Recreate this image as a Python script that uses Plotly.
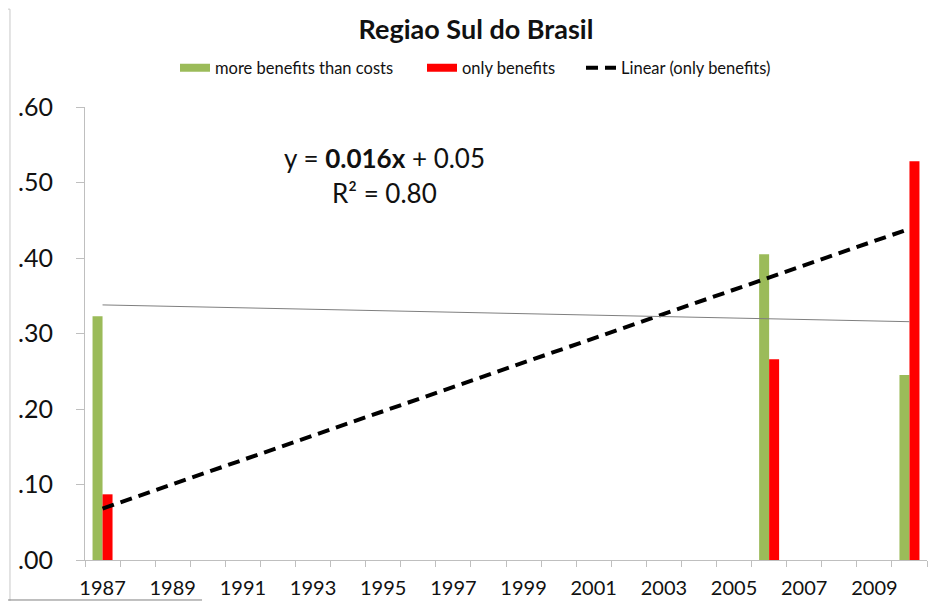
import numpy as np
import plotly.graph_objects as go

# ---- data ----
categories = list(range(1987, 2011))          # category axis (years)
bar_years = [1987, 2006, 2010]
more_benefits = [0.323, 0.405, 0.245]         # more benefits than costs
only_benefits = [0.087, 0.266, 0.528]         # only benefits
label_years = list(range(1987, 2010, 2))
label_text = [str(y) for y in label_years]
y_ticks = [0.0, 0.1, 0.2, 0.3, 0.4, 0.5, 0.6]
y_ticktext = [".00", ".10", ".20", ".30", ".40", ".50", ".60"]
equation_text = "y = <b>0.016x</b> + 0.05"
r2_text = "R² = 0.80"

GREEN = "#9BBB59"
RED = "#FF0000"
FONT = "Lato"
AX = "#bfbfbf"
TXT = "#111111"

# page is offset by the browser's 8px body margin
W, H = 928, 594


def cx(page_x):
    return (page_x - 8) / W


def cy(page_y):
    return 1 - (page_y - 8) / H


# linear trendlines (as Excel computes them)
s_red, b_red = np.polyfit(bar_years, only_benefits, 1)
s_grn, b_grn = np.polyfit(bar_years, more_benefits, 1)
tx = [categories[0], categories[-1]]

bw = 0.285

fig = go.Figure()
fig.add_trace(go.Bar(x=bar_years, y=more_benefits, name="more benefits than costs",
                     legendgroup="g", showlegend=False,
                     marker=dict(color=GREEN, line=dict(width=0)), width=bw, offset=-bw))
fig.add_trace(go.Bar(x=bar_years, y=only_benefits, name="only benefits",
                     legendgroup="r", showlegend=False,
                     marker=dict(color=RED, line=dict(width=0)), width=bw, offset=0))
fig.add_trace(go.Scatter(x=tx, y=[s_red * v + b_red for v in tx], mode="lines",
                         name="Linear (only benefits)", legend="legend3",
                         line=dict(color="black", width=4, dash="12px,7px")))
fig.add_trace(go.Scatter(x=tx, y=[s_grn * v + b_grn for v in tx], mode="lines",
                         showlegend=False, hoverinfo="skip",
                         line=dict(color="#7f7f7f", width=1)))
# legend swatches (wide rectangles like the original)
fig.add_trace(go.Scatter(x=[None], y=[None], mode="lines", name="more benefits than costs",
                         legendgroup="g", legend="legend", line=dict(color=GREEN, width=8)))
fig.add_trace(go.Scatter(x=[None], y=[None], mode="lines", name="only benefits",
                         legendgroup="r", legend="legend2", line=dict(color=RED, width=8)))

fig.add_annotation(x=1995.05, y=0.532, xref="x", yref="y", text=equation_text,
                   showarrow=False, font=dict(family=FONT, size=26, color=TXT))
fig.add_annotation(x=1995.05, y=0.486, xref="x", yref="y", text=r2_text,
                   showarrow=False, font=dict(family=FONT, size=26, color=TXT))

# frame fragments at the edge of the picture
fig.add_shape(type="line", xref="paper", yref="paper", x0=-0.0891, x1=-0.0891, y0=1.216, y1=-0.09,
              line=dict(color="#c8c8c8", width=1))
fig.add_shape(type="line", xref="paper", yref="paper", x0=-0.0914, x1=-0.0891, y0=1.216, y1=1.216,
              line=dict(color="#c8c8c8", width=1))
fig.add_shape(type="line", xref="paper", yref="paper", x0=-0.0914, x1=0.139, y0=-0.0883, y1=-0.0883,
              line=dict(color="#808080", width=1))

leg_common = dict(orientation="h", xref="container", yref="container", xanchor="left",
                  y=cy(68), yanchor="middle", font=dict(family=FONT, size=16.5, color=TXT),
                  bgcolor="rgba(0,0,0,0)")

fig.update_layout(
    width=W, height=H,
    margin=dict(l=77, r=9, t=99, b=42, autoexpand=False),
    paper_bgcolor="white", plot_bgcolor="white",
    barmode="overlay",
    font=dict(family=FONT, color=TXT),
    title=dict(text="<b>Regiao Sul do Brasil</b>", xref="container", x=cx(476), xanchor="center",
               yref="container", y=cy(30), yanchor="middle",
               font=dict(family=FONT, size=27, color=TXT)),
    showlegend=True,
    legend=dict(x=cx(175), **leg_common),
    legend2=dict(x=cx(422), **leg_common),
    legend3=dict(x=cx(581), **leg_common),
    xaxis=dict(range=[categories[0] - 0.5, categories[-1] + 0.5], tickmode="array",
               tickvals=label_years, ticktext=label_text, ticks="", ticklabelstandoff=10,
               automargin=False,
               showline=True, linecolor=AX, linewidth=1, showgrid=False, zeroline=False,
               tickfont=dict(family=FONT, size=20, color=TXT),
               minor=dict(tickmode="array",
                          tickvals=[c - 0.5 for c in categories] + [categories[-1] + 0.5],
                          ticks="outside", ticklen=6, tickcolor=AX, showgrid=False)),
    yaxis=dict(range=[0, 0.6], tickmode="array", tickvals=y_ticks, ticktext=y_ticktext,
               ticks="outside", ticklen=8, tickcolor=AX, showline=True, linecolor=AX, linewidth=1,
               showgrid=False, zeroline=False, ticklabelstandoff=18, automargin=False,
               tickfont=dict(family=FONT, size=25, color=TXT)),
)

fig.write_html("out.html")
